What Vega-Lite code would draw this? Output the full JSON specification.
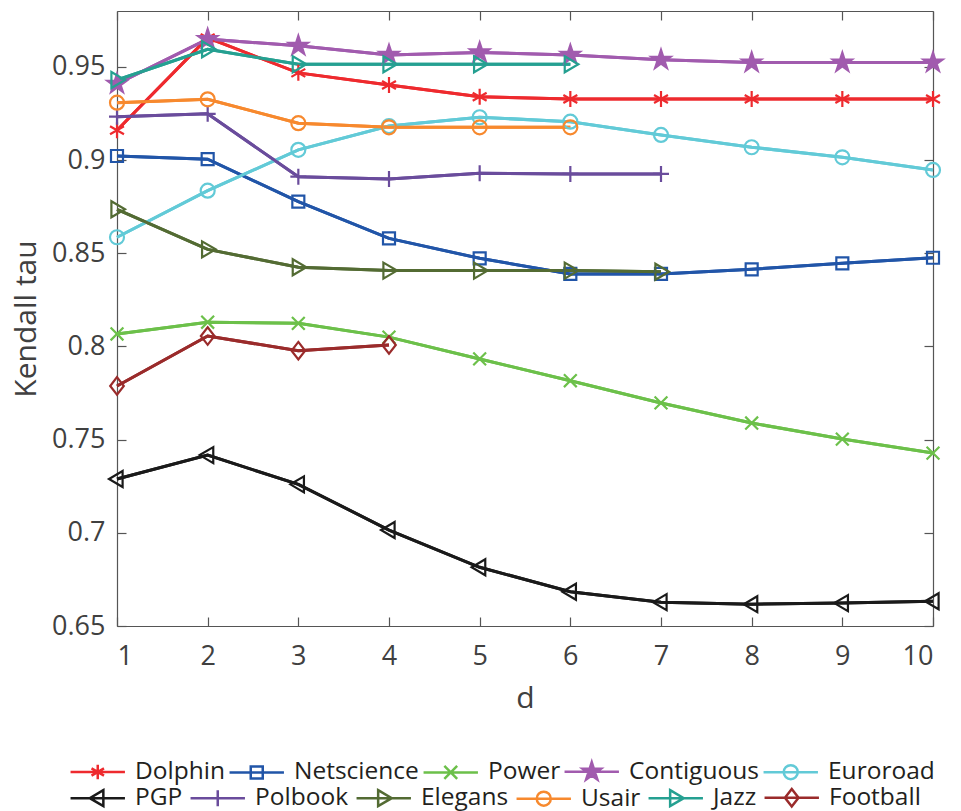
{
  "$schema": "https://vega.github.io/schema/vega-lite/v6.json",
  "width": 816,
  "height": 615,
  "autosize": {"type": "none"},
  "padding": {"left": 117, "top": 11, "right": 28, "bottom": 185},
  "background": "white",
  "config": {
    "view": {"stroke": null},
    "font": "Open Sans",
    "axis": {
      "domainColor": "#555555",
      "domainWidth": 1.2,
      "tickColor": "#555555",
      "tickWidth": 1.2,
      "tickSize": -9,
      "labelFont": "Open Sans",
      "labelFontSize": 27,
      "labelColor": "#404040",
      "titleFont": "Open Sans",
      "titleFontSize": 30,
      "titleFontWeight": "normal",
      "titleColor": "#404040",
      "grid": false
    },
    "legend": {
      "title": null,
      "orient": "none",
      "direction": "horizontal",
      "rowPadding": 1,
      "symbolSize": 256,
      "symbolStrokeWidth": 2.5,
      "labelOffset": 25,
      "labelFont": "Open Sans",
      "labelFontSize": 24.5,
      "labelColor": "#231F20",
      "labelLimit": 300
    }
  },
  "data": {
    "values": [
      {"s": "Dolphin", "d": 1, "t": 0.916}, {"s": "Dolphin", "d": 2, "t": 0.9656}, {"s": "Dolphin", "d": 3, "t": 0.9468}, {"s": "Dolphin", "d": 4, "t": 0.9403}, {"s": "Dolphin", "d": 5, "t": 0.934}, {"s": "Dolphin", "d": 6, "t": 0.9328}, {"s": "Dolphin", "d": 7, "t": 0.9328}, {"s": "Dolphin", "d": 8, "t": 0.9328}, {"s": "Dolphin", "d": 9, "t": 0.9328}, {"s": "Dolphin", "d": 10, "t": 0.9328},
      {"s": "Netscience", "d": 1, "t": 0.9022}, {"s": "Netscience", "d": 2, "t": 0.9005}, {"s": "Netscience", "d": 3, "t": 0.8777}, {"s": "Netscience", "d": 4, "t": 0.858}, {"s": "Netscience", "d": 5, "t": 0.8473}, {"s": "Netscience", "d": 6, "t": 0.8389}, {"s": "Netscience", "d": 7, "t": 0.8389}, {"s": "Netscience", "d": 8, "t": 0.8414}, {"s": "Netscience", "d": 9, "t": 0.8446}, {"s": "Netscience", "d": 10, "t": 0.8476},
      {"s": "Power", "d": 1, "t": 0.8067}, {"s": "Power", "d": 2, "t": 0.813}, {"s": "Power", "d": 3, "t": 0.8124}, {"s": "Power", "d": 4, "t": 0.805}, {"s": "Power", "d": 5, "t": 0.7933}, {"s": "Power", "d": 6, "t": 0.7816}, {"s": "Power", "d": 7, "t": 0.7697}, {"s": "Power", "d": 8, "t": 0.7589}, {"s": "Power", "d": 9, "t": 0.7503}, {"s": "Power", "d": 10, "t": 0.7428},
      {"s": "Contiguous", "d": 1, "t": 0.9409}, {"s": "Contiguous", "d": 2, "t": 0.9649}, {"s": "Contiguous", "d": 3, "t": 0.9613}, {"s": "Contiguous", "d": 4, "t": 0.9564}, {"s": "Contiguous", "d": 5, "t": 0.9577}, {"s": "Contiguous", "d": 6, "t": 0.9564}, {"s": "Contiguous", "d": 7, "t": 0.9538}, {"s": "Contiguous", "d": 8, "t": 0.9523}, {"s": "Contiguous", "d": 9, "t": 0.9523}, {"s": "Contiguous", "d": 10, "t": 0.9523},
      {"s": "Euroroad", "d": 1, "t": 0.8586}, {"s": "Euroroad", "d": 2, "t": 0.8836}, {"s": "Euroroad", "d": 3, "t": 0.9055}, {"s": "Euroroad", "d": 4, "t": 0.9183}, {"s": "Euroroad", "d": 5, "t": 0.923}, {"s": "Euroroad", "d": 6, "t": 0.9206}, {"s": "Euroroad", "d": 7, "t": 0.9135}, {"s": "Euroroad", "d": 8, "t": 0.9069}, {"s": "Euroroad", "d": 9, "t": 0.9015}, {"s": "Euroroad", "d": 10, "t": 0.8947},
      {"s": "PGP", "d": 1, "t": 0.7289}, {"s": "PGP", "d": 2, "t": 0.7417}, {"s": "PGP", "d": 3, "t": 0.726}, {"s": "PGP", "d": 4, "t": 0.7015}, {"s": "PGP", "d": 5, "t": 0.6815}, {"s": "PGP", "d": 6, "t": 0.6684}, {"s": "PGP", "d": 7, "t": 0.6628}, {"s": "PGP", "d": 8, "t": 0.6617}, {"s": "PGP", "d": 9, "t": 0.6623}, {"s": "PGP", "d": 10, "t": 0.6633},
      {"s": "Polbook", "d": 1, "t": 0.9233}, {"s": "Polbook", "d": 2, "t": 0.9248}, {"s": "Polbook", "d": 3, "t": 0.8911}, {"s": "Polbook", "d": 4, "t": 0.8899}, {"s": "Polbook", "d": 5, "t": 0.8929}, {"s": "Polbook", "d": 6, "t": 0.8926}, {"s": "Polbook", "d": 7, "t": 0.8926},
      {"s": "Elegans", "d": 1, "t": 0.8736}, {"s": "Elegans", "d": 2, "t": 0.8521}, {"s": "Elegans", "d": 3, "t": 0.8425}, {"s": "Elegans", "d": 4, "t": 0.8407}, {"s": "Elegans", "d": 5, "t": 0.8407}, {"s": "Elegans", "d": 6, "t": 0.8407}, {"s": "Elegans", "d": 7, "t": 0.8401},
      {"s": "Usair", "d": 1, "t": 0.9308}, {"s": "Usair", "d": 2, "t": 0.9326}, {"s": "Usair", "d": 3, "t": 0.9198}, {"s": "Usair", "d": 4, "t": 0.9176}, {"s": "Usair", "d": 5, "t": 0.9176}, {"s": "Usair", "d": 6, "t": 0.9176},
      {"s": "Jazz", "d": 1, "t": 0.943}, {"s": "Jazz", "d": 2, "t": 0.9595}, {"s": "Jazz", "d": 3, "t": 0.9514}, {"s": "Jazz", "d": 4, "t": 0.9514}, {"s": "Jazz", "d": 5, "t": 0.9514}, {"s": "Jazz", "d": 6, "t": 0.9514},
      {"s": "Football", "d": 1, "t": 0.7788}, {"s": "Football", "d": 2, "t": 0.8056}, {"s": "Football", "d": 3, "t": 0.7977}, {"s": "Football", "d": 4, "t": 0.8008}
    ]
  },
  "layer": [
    {
      "mark": {"type": "line", "strokeWidth": 3},
      "encoding": {
        "x": {
          "field": "d", "type": "quantitative",
          "scale": {"domain": [1, 10], "nice": false, "zero": false},
          "axis": {"orient": "bottom", "values": [1, 2, 3, 4, 5, 6, 7, 8, 9, 10], "format": "d", "labelPadding": 26, "title": "d", "titlePadding": 14}
        },
        "y": {
          "field": "t", "type": "quantitative",
          "scale": {"domain": [0.65, 0.98], "nice": false, "zero": false},
          "axis": {"orient": "left", "values": [0.65, 0.7, 0.75, 0.8, 0.85, 0.9, 0.95], "format": "~g", "labelPadding": 21, "title": "Kendall tau", "titlePadding": 10}
        },
        "color": {
          "field": "s", "type": "nominal",
          "scale": {
            "domain": ["Dolphin", "Netscience", "Power", "Contiguous", "Euroroad", "PGP", "Polbook", "Elegans", "Usair", "Jazz", "Football"],
            "range": ["#EE2A2E", "#2155A8", "#6CC04A", "#A15BAE", "#62CAD7", "#1A1A1A", "#6A4C9C", "#536B33", "#F7892E", "#25A091", "#9A2B2B"]
          },
          "legend": {
            "values": ["Dolphin", "Netscience", "Power", "Contiguous", "Euroroad"],
            "legendX": -31.5,
            "legendY": 748,
            "columnPadding": -1,
            "encode": {
              "symbols": {
                "update": {
                  "shape": {"signal": "{'Dolphin':'M-3.4,0H3.4M0,-0.9V0.9M-0.78,-0.45L0.78,0.45M-0.78,0.45L0.78,-0.45','Netscience':'M-3.4,0H3.4M-0.75,-0.75H0.75V0.75H-0.75Z','Power':'M-3.4,0H3.4M-0.8,-0.8L0.8,0.8M-0.8,0.8L0.8,-0.8','Contiguous':'M-3.4,0H3.4M0,-1.2L0.27,-0.372L1.141,-0.371L0.437,0.142L0.705,0.971L0,0.46L-0.705,0.971L-0.437,0.142L-1.141,-0.371L-0.27,-0.372Z','Euroroad':'M-3.4,0H3.4M-0.875,0A0.875,0.875,0,1,0,0.875,0A0.875,0.875,0,1,0,-0.875,0Z'}[datum.value]"},
                  "fill": {"signal": "datum.value === 'Contiguous' ? '#A15BAE' : 'transparent'"},
                  "strokeWidth": {"value": 2.5}
                }
              }
            }
          }
        }
      }
    },
    {
      "mark": {"type": "line", "strokeWidth": 3},
      "encoding": {
        "x": {"field": "d", "type": "quantitative", "axis": null},
        "y": {"field": "t", "type": "quantitative", "axis": null},
        "stroke": {
          "field": "s", "type": "nominal",
          "scale": {
            "domain": ["Football", "Jazz", "Usair", "Elegans", "Polbook", "PGP", "Euroroad", "Contiguous", "Power", "Netscience", "Dolphin"],
            "range": ["#9A2B2B", "#25A091", "#F7892E", "#536B33", "#6A4C9C", "#1A1A1A", "#62CAD7", "#A15BAE", "#6CC04A", "#2155A8", "#EE2A2E"]
          },
          "legend": {
            "values": ["PGP", "Polbook", "Elegans", "Usair", "Jazz", "Football"],
            "legendX": -31.5,
            "legendY": 774,
            "columnPadding": 3,
            "encode": {
              "symbols": {
                "update": {
                  "shape": {"signal": "{'PGP':'M-3.4,0H3.4M0.7,-1L-1,0L0.7,1Z','Polbook':'M-3.4,0H3.4M0,-1V1','Elegans':'M-3.4,0H3.4M-0.7,-1L1,0L-0.7,1Z','Usair':'M-3.4,0H3.4M-0.875,0A0.875,0.875,0,1,0,0.875,0A0.875,0.875,0,1,0,-0.875,0Z','Jazz':'M-3.4,0H3.4M-0.7,-1L1,0L-0.7,1Z','Football':'M-3.4,0H3.4M0,-1.1L0.85,0L0,1.1L-0.85,0Z'}[datum.value]"},
                  "fill": {"value": "transparent"},
                  "strokeWidth": {"value": 2.5}
                }
              }
            }
          }
        }
      }
    },
    {
      "mark": {"type": "point", "filled": false, "strokeWidth": 2.2, "size": 256, "opacity": 1},
      "encoding": {
        "x": {
          "field": "d", "type": "quantitative",
          "axis": {"orient": "top", "values": [1, 2, 3, 4, 5, 6, 7, 8, 9, 10], "labels": false, "title": null}
        },
        "y": {
          "field": "t", "type": "quantitative",
          "axis": {"orient": "right", "values": [0.65, 0.7, 0.75, 0.8, 0.85, 0.9, 0.95], "labels": false, "title": null}
        },
        "color": {"field": "s", "type": "nominal"},
        "shape": {
          "field": "s", "type": "nominal",
          "scale": {
            "domain": ["Contiguous", "Dolphin", "Elegans", "Euroroad", "Football", "Jazz", "Netscience", "PGP", "Polbook", "Power", "Usair"],
            "range": [
              "M0,-1.25L0.28,-0.387L1.189,-0.386L0.455,0.148L0.735,1.011L0,0.48L-0.735,1.011L-0.455,0.148L-1.189,-0.386L-0.28,-0.387Z",
              "M0,-1V1M-0.87,-0.5L0.87,0.5M-0.87,0.5L0.87,-0.5",
              "M-0.7,-1L1,0L-0.7,1Z",
              "M-0.875,0A0.875,0.875,0,1,0,0.875,0A0.875,0.875,0,1,0,-0.875,0Z",
              "M0,-1.1L0.85,0L0,1.1L-0.85,0Z",
              "M-0.7,-1L1,0L-0.7,1Z",
              "M-0.75,-0.75H0.75V0.75H-0.75Z",
              "M0.7,-1L-1,0L0.7,1Z",
              "M-1,0H1M0,-1V1",
              "M-0.8,-0.8L0.8,0.8M-0.8,0.8L0.8,-0.8",
              "M-0.875,0A0.875,0.875,0,1,0,0.875,0A0.875,0.875,0,1,0,-0.875,0Z"
            ]
          },
          "legend": null
        },
        "fill": {
          "condition": {"test": "datum.s === 'Contiguous'", "value": "#A15BAE"},
          "value": "transparent"
        }
      }
    }
  ],
  "resolve": {"axis": {"x": "independent", "y": "independent"}}
}
